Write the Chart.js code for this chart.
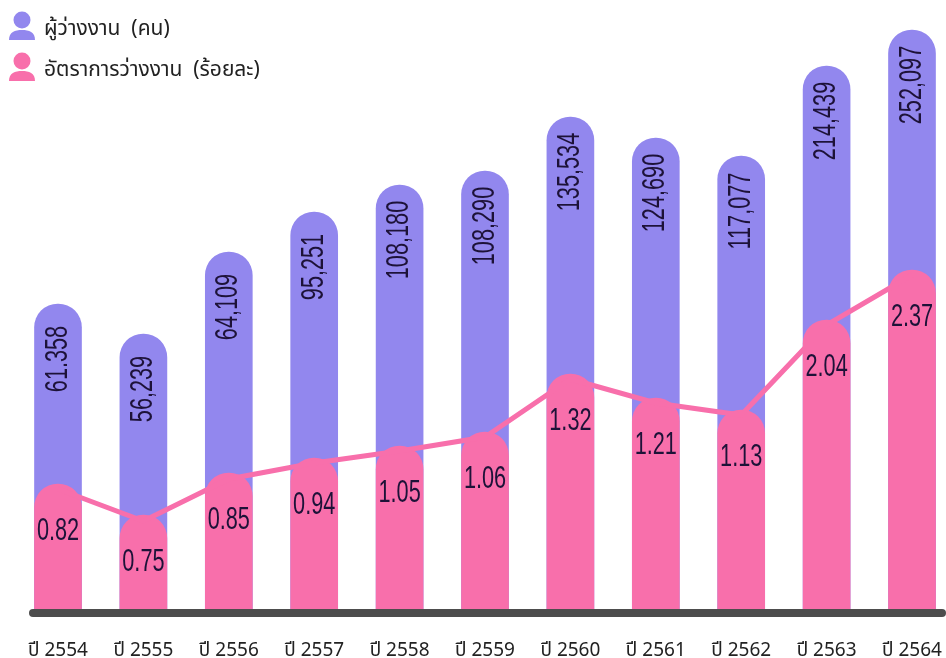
<!DOCTYPE html>
<html>
<head>
<meta charset="utf-8">
<style>
    html, body { margin: 0; padding: 0; background: #fff; }
    #chart { display: block; }
</style>
<script src="https://cdn.jsdelivr.net/npm/chart.js@4/dist/chart.umd.min.js"></script>
</head>
<body>
<canvas id="chart" width="946" height="658"></canvas>
<script>
const years = ['ปี 2554', 'ปี 2555', 'ปี 2556', 'ปี 2557', 'ปี 2558', 'ปี 2559', 'ปี 2560', 'ปี 2561', 'ปี 2562', 'ปี 2563', 'ปี 2564'];

// the printed numbers; the bars in the picture are not drawn in proportion to them
const unemployedLabels = ['61.358', '56,239', '64,109', '95,251', '108,180', '108,290', '135,534', '124,690', '117,077', '214,439', '252,097'];
const rateLabels = ['0.82', '0.75', '0.85', '0.94', '1.05', '1.06', '1.32', '1.21', '1.13', '2.04', '2.37'];

// bar heights
const unemployedHeights = [305, 275, 357, 397, 424, 438, 492, 471, 453, 543, 579];
const rateHeights = [125, 94, 136, 151, 163, 177, 235, 211, 199, 289, 339];
const rateLineHeights = [120, 88, 130, 146, 158, 172, 230, 206, 194, 284, 334];

const legendNames = ['ผู้ว่างงาน  (คน)', 'อัตราการว่างงาน  (ร้อยละ)'];

const PURPLE = '#9287ee';
const PINK = '#f86fab';
const INK = '#1d1238';
const THAI_FONT = '"Noto Sans", "Noto Sans Thai", "Noto Sans Thai Looped", Roboto, sans-serif';

function drawPerson(ctx, cx, top, color) {
    ctx.fillStyle = color;
    ctx.beginPath();
    ctx.arc(cx, top + 9, 8.5, 0, Math.PI * 2);
    ctx.fill();
    ctx.beginPath();
    ctx.moveTo(cx - 13, top + 29);
    ctx.bezierCurveTo(cx - 13, top + 21, cx - 7, top + 19, cx, top + 19);
    ctx.bezierCurveTo(cx + 7, top + 19, cx + 13, top + 21, cx + 13, top + 29);
    ctx.closePath();
    ctx.fill();
}

const decorPlugin = {
    id: 'decor',
    afterDatasetsDraw(chart) {
        const ctx = chart.ctx;
        const y0 = chart.scales.y.getPixelForValue(0);

        // thick base line
        ctx.save();
        ctx.strokeStyle = '#4d4d4d';
        ctx.lineWidth = 8;
        ctx.lineCap = 'round';
        ctx.beginPath();
        ctx.moveTo(33, y0 + 4);
        ctx.lineTo(942, y0 + 4);
        ctx.stroke();
        ctx.restore();

        // value labels
        const purpleBars = chart.getDatasetMeta(2).data;
        const pinkBars = chart.getDatasetMeta(1).data;
        ctx.save();
        ctx.fillStyle = INK;
        ctx.textAlign = 'center';
        ctx.textBaseline = 'middle';
        ctx.font = '31px "Liberation Sans Narrow", "Liberation Sans"';
        purpleBars.forEach((bar, i) => {
            ctx.save();
            ctx.translate(bar.x, bar.y + 55);
            ctx.rotate(-Math.PI / 2);
            ctx.scale(0.7, 1);
            ctx.fillText(unemployedLabels[i], 0, 0);
            ctx.restore();
        });
        pinkBars.forEach((bar, i) => {
            ctx.save();
            ctx.translate(bar.x, bar.y + 47);
            ctx.scale(0.7, 1);
            ctx.fillText(rateLabels[i], 0, 0);
            ctx.restore();
        });
        ctx.restore();

        // legend
        ctx.save();
        drawPerson(ctx, 22, 11, PURPLE);
        drawPerson(ctx, 22, 52, PINK);
        ctx.fillStyle = '#222';
        ctx.textBaseline = 'middle';
        ctx.font = '21px ' + THAI_FONT;
        ctx.fillText(legendNames[0], 44, 29);
        ctx.fillText(legendNames[1], 44, 70);
        ctx.restore();
    }
};

new Chart(document.getElementById('chart').getContext('2d'), {
    type: 'bar',
    data: {
        labels: years,
        datasets: [
            {
                type: 'line',
                data: rateLineHeights,
                borderColor: PINK,
                borderWidth: 5,
                pointRadius: 0,
                tension: 0,
                clip: false,
                order: 1
            },
            {
                data: rateHeights,
                backgroundColor: PINK,
                barThickness: 47,
                borderRadius: { topLeft: 24, topRight: 24 },
                clip: false,
                order: 2
            },
            {
                data: unemployedHeights,
                backgroundColor: PURPLE,
                barThickness: 47,
                borderRadius: { topLeft: 24, topRight: 24 },
                clip: false,
                order: 3
            }
        ]
    },
    options: {
        responsive: false,
        animation: false,
        events: [],
        layout: { padding: { left: 58, right: 34, top: 0, bottom: 0 } },
        plugins: { legend: { display: false }, tooltip: { enabled: false } },
        scales: {
            x: {
                offset: false,
                grid: { display: false },
                border: { display: false },
                afterFit(scale) {
                    scale.height = 49;
                    scale.paddingLeft = 0;
                    scale.paddingRight = 0;
                },
                ticks: {
                    autoSkip: false,
                    maxRotation: 0,
                    minRotation: 0,
                    padding: 22,
                    color: '#222',
                    font: { family: THAI_FONT, size: 19 }
                }
            },
            y: {
                display: false,
                min: 0,
                max: 609
            }
        },
        datasets: { bar: { grouped: false } }
    },
    plugins: [decorPlugin]
});
</script>
</body>
</html>
